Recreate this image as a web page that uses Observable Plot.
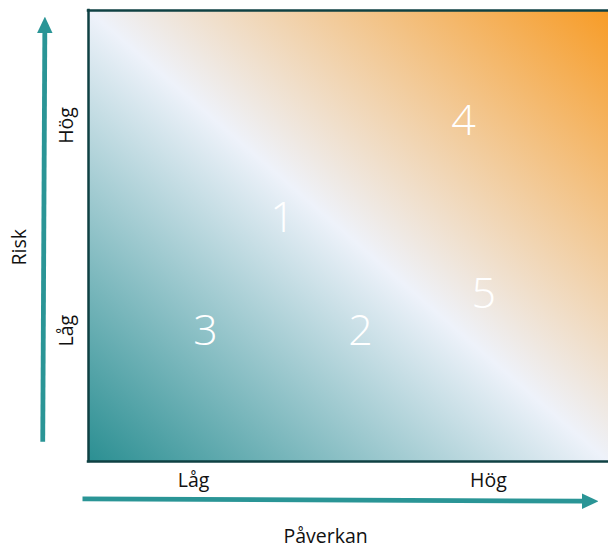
<!DOCTYPE html>
<html>
<head>
<meta charset="utf-8">
<script src="https://cdn.jsdelivr.net/npm/d3@7"></script>
<script src="https://cdn.jsdelivr.net/npm/@observablehq/plot@0.6"></script>
<style>
  html, body { margin: 0; padding: 0; background: #fff; }
  #chart { width: 608px; height: 549px; }
</style>
</head>
<body>
<div id="chart"></div>
<script>
// ---- data ----
const itemLabels = ["1", "2", "3", "4", "5"];
const itemImpact = [3.73, 5.23, 2.25, 7.21, 7.60];   // Påverkan (0–10)
const itemRisk   = [5.39, 2.88, 2.88, 7.55, 3.70];   // Risk (0–10)

const xTickLabels = ["Låg", "Hög"];
const xTickPos    = [2.02, 7.69];
const yTickLabels = ["Låg", "Hög"];
const yTickPos    = [2.9, 7.45];

const xTitle = "Påverkan";
const yTitle = "Risk";

const items = itemLabels.map((label, i) => ({label, impact: itemImpact[i], risk: itemRisk[i]}));

// ---- styling ----
const teal = "#2a9596";
const border = "#0f4143";
const font = "'Open Sans', 'Noto Sans', sans-serif";

function gradientDefs() {
  const defs = d3.create("svg:defs");
  const g = defs.append("linearGradient")
    .attr("id", "bg-grad")
    .attr("x1", 0).attr("y1", 1).attr("x2", 1).attr("y2", 0);
  g.append("stop").attr("offset", "0%").attr("stop-color", "#2b8f92");
  g.append("stop").attr("offset", "50%").attr("stop-color", "#eef2fa");
  g.append("stop").attr("offset", "100%").attr("stop-color", "#f79c27");
  return defs.node();
}

function arrowHead(color, context) {
  const m = d3.select(context.document.createElementNS("http://www.w3.org/2000/svg", "marker"))
    .attr("viewBox", "0 -5 10 10")
    .attr("refX", 0.5)
    .attr("refY", 0)
    .attr("markerWidth", 3.5)
    .attr("markerHeight", 3.3)
    .attr("preserveAspectRatio", "none")
    .attr("orient", "auto")
    .attr("fill", color)
    .attr("stroke", "none");
  m.append("path").attr("d", "M0,-5L10,0L0,5Z");
  return m.node();
}

const arrows = [
  {x1: -0.880, y1: 0.44, x2: -0.840, y2: 9.51},
  {x1: -0.115, y1: -0.830, x2: 9.50, y2: -0.880}
];

const chart = Plot.plot({
  width: 608,
  height: 549,
  marginTop: 10,
  marginLeft: 88,
  marginRight: 0,
  marginBottom: 88,
  x: {domain: [0, 10], axis: null},
  y: {domain: [0, 10], axis: null},
  style: {fontFamily: font, background: "white", overflow: "visible"},
  marks: [
    gradientDefs,
    Plot.frame({fill: "url(#bg-grad)", stroke: null}),
    Plot.ruleX([0], {stroke: border, strokeWidth: 2.5, insetTop: -1.25, insetBottom: -1.25}),
    Plot.ruleY([0, 10], {stroke: border, strokeWidth: 2.5, insetLeft: -1.25}),
    Plot.text(items, {
      x: "impact", y: "risk", text: "label",
      fill: "white", fontSize: 43, fontWeight: 300
    }),
    Plot.link(arrows, {
      x1: "x1", y1: "y1", x2: "x2", y2: "y2",
      stroke: teal, strokeWidth: 4.8, markerEnd: arrowHead
    }),
    Plot.text(xTickLabels, {
      x: (d, i) => xTickPos[i], frameAnchor: "bottom", dy: 19,
      textAnchor: "middle", lineAnchor: "middle",
      fontSize: 19.5, fill: "#111"
    }),
    Plot.text(yTickLabels, {
      y: (d, i) => yTickPos[i], frameAnchor: "left", dx: -22, rotate: -90,
      textAnchor: "middle", lineAnchor: "middle",
      fontSize: 19.5, fill: "#111"
    }),
    Plot.text([xTitle], {
      x: 4.56, frameAnchor: "bottom", dy: 75,
      textAnchor: "middle", lineAnchor: "middle",
      fontSize: 19.5, fill: "#111"
    }),
    Plot.text([yTitle], {
      y: 4.75, frameAnchor: "left", dx: -69, rotate: -90,
      textAnchor: "middle", lineAnchor: "middle",
      fontSize: 19.5, fill: "#111"
    })
  ]
});

document.getElementById("chart").appendChild(chart);
</script>
</body>
</html>
